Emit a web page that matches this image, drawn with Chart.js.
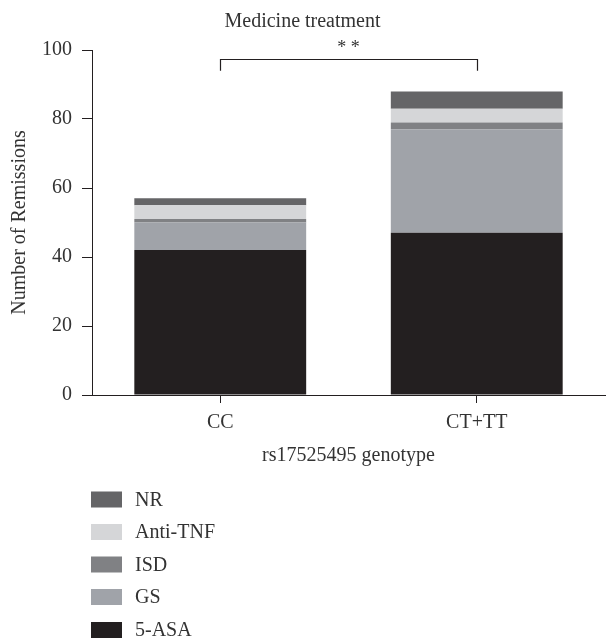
<!DOCTYPE html>
<html>
<head>
<meta charset="utf-8">
<script src="https://cdn.jsdelivr.net/npm/chart.js@4.4.1/dist/chart.umd.min.js"></script>
<style>
  html, body { margin: 0; padding: 0; background: #ffffff; }
  #wrap { width: 608px; height: 641px; position: relative; }
</style>
</head>
<body>
<div id="wrap"><canvas id="c" width="608" height="641"></canvas></div>
<script>
// ---- data ----
const categories = ["CC", "CT+TT"];
const seriesNames = ["5-ASA", "GS", "ISD", "Anti-TNF", "NR"];
const asa5 = [42, 47];
const gs = [8, 30];
const isd = [1, 2];
const antiTNF = [4, 4];
const nr = [2, 5];
const yTicks = [0, 20, 40, 60, 80, 100];
const colors = ["#231f20", "#a0a3a9", "#808184", "#d5d6d8", "#656567"];
const seriesValues = [asa5, gs, isd, antiTNF, nr];

const FONT = "'Liberation Serif', 'DejaVu Serif', serif";
const INK = "#231f20";
const TEXT = "#333333";

const datasets = seriesNames.map((name, i) => ({
  label: name,
  data: seriesValues[i],
  backgroundColor: colors[i],
  borderWidth: 0,
  barPercentage: 0.67,
  categoryPercentage: 1.0
}));

const extras = {
  id: 'extras',
  afterDraw(chart) {
    const ctx = chart.ctx;
    const x = chart.scales.x, y = chart.scales.y;
    // significance bracket
    const x1 = x.getPixelForValue(0), x2 = x.getPixelForValue(1);
    const yTop = y.getPixelForValue(97.3);
    const yBot = y.getPixelForValue(94);
    ctx.save();
    ctx.strokeStyle = INK;
    ctx.lineWidth = 1.2;
    ctx.beginPath();
    ctx.moveTo(Math.round(x1) + 0.5, yBot);
    ctx.lineTo(Math.round(x1) + 0.5, Math.round(yTop) + 0.5);
    ctx.lineTo(Math.round(x2) + 0.5, Math.round(yTop) + 0.5);
    ctx.lineTo(Math.round(x2) + 0.5, yBot);
    ctx.stroke();
    ctx.fillStyle = TEXT;
    ctx.font = "18px " + FONT;
    ctx.textAlign = "center";
    ctx.textBaseline = "middle";
    ctx.fillText("* *", (x1 + x2) / 2, yTop - 11);
    // legend (top to bottom: reverse of stacking order)
    const order = seriesNames.map((_, i) => i).reverse();
    const boxX = 91, boxW = 31, boxH = 16, textX = 135;
    const rowY = [499.5, 532, 564.5, 597, 630];
    ctx.font = "20px " + FONT;
    ctx.textAlign = "left";
    order.forEach((di, k) => {
      const cy = rowY[k];
      ctx.fillStyle = colors[di];
      ctx.fillRect(boxX, cy - boxH / 2, boxW, boxH);
      ctx.fillStyle = TEXT;
      ctx.fillText(seriesNames[di], textX, cy + 1);
    });
    ctx.restore();
  }
};

new Chart(document.getElementById('c'), {
  type: 'bar',
  data: { labels: categories, datasets },
  plugins: [extras],
  options: {
    responsive: false,
    animation: false,
    layout: { padding: { top: 0, left: 0, right: 3, bottom: 170 } },
    plugins: {
      legend: { display: false },
      tooltip: { enabled: false },
      title: {
        display: true,
        text: "Medicine treatment",
        color: TEXT,
        font: { family: FONT, size: 20, weight: 'normal' },
        padding: { top: 10, bottom: 16 }
      }
    },
    scales: {
      x: {
        stacked: true,
        offset: true,
        grid: { display: true, offset: false, drawOnChartArea: false, drawTicks: true, tickLength: 8, color: INK, tickColor: INK, tickWidth: 1 },
        border: { display: true, color: INK, width: 1 },
        ticks: { color: TEXT, padding: 8, font: { family: FONT, size: 20 } },
        title: { display: true, text: "rs17525495 genotype", color: TEXT, font: { family: FONT, size: 20 }, padding: { top: 0, bottom: 3 } },
        afterFit(scale) { scale.height = 76; }
      },
      y: {
        stacked: true,
        min: 0,
        max: 100,
        afterBuildTicks(scale) { scale.ticks = yTicks.map(v => ({ value: v })); },
        grid: { display: true, drawOnChartArea: false, drawTicks: true, tickLength: 10, color: INK, tickColor: INK, tickWidth: 1 },
        border: { display: true, color: INK, width: 1 },
        ticks: { color: TEXT, padding: 10, font: { family: FONT, size: 20 } },
        title: { display: true, text: "Number of Remissions", color: TEXT, font: { family: FONT, size: 20 }, padding: { top: 8, bottom: 0 } },
        afterFit(scale) { scale.width = 92; }
      }
    }
  }
});
</script>
</body>
</html>
